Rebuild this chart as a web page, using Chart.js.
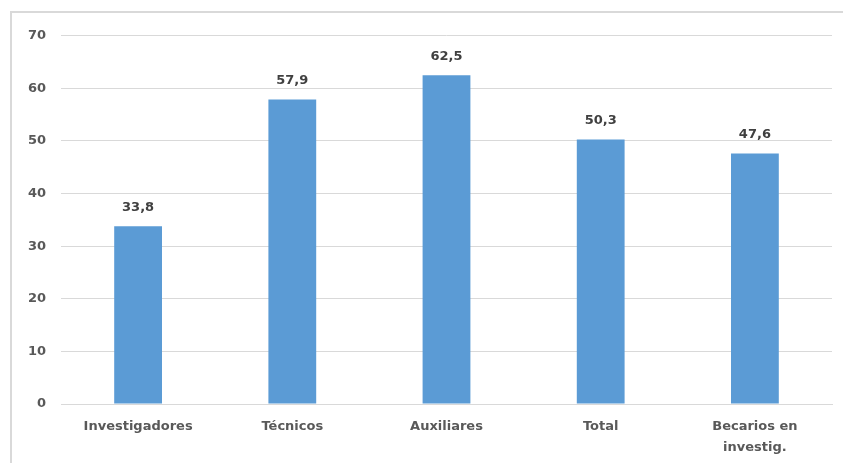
<!DOCTYPE html>
<html>
<head>
<meta charset="utf-8">
<script src="https://cdn.jsdelivr.net/npm/chart.js@4"></script>
<style>
  html, body { margin: 0; background: #fff; overflow: hidden; }
  #frame {
    position: absolute; left: 10px; top: 11px;
    width: 831px; height: 450px;
    border-left: 2px solid #d9d9d9; border-top: 2px solid #d9d9d9;
  }
  #frame canvas { display: block; }
</style>
</head>
<body>
<div id="frame"><canvas id="myChart" width="829" height="448"></canvas></div>
<script>
const categories = ["Investigadores", "Técnicos", "Auxiliares", "Total", ["Becarios en", "investig."]];
const values = [33.8, 57.9, 62.5, 50.3, 47.6];
const yTicks = [0, 10, 20, 30, 40, 50, 60, 70];

const fmt = v => v.toFixed(1).replace(".", ",");

// labels above each bar
const valueLabels = {
  id: "valueLabels",
  afterDatasetsDraw(chart) {
    const ctx = chart.ctx;
    const meta = chart.getDatasetMeta(0);
    ctx.save();
    ctx.font = "bold 13px 'DejaVu Sans'";
    ctx.fillStyle = "#404040";
    ctx.textAlign = "center";
    ctx.textBaseline = "middle";
    meta.data.forEach((bar, i) => {
      ctx.fillText(fmt(values[i]), bar.x, bar.y - 19);
    });
    ctx.restore();
  }
};

const chart = new Chart("myChart", {
  type: "bar",
  data: {
    labels: categories,
    datasets: [{
      data: values,
      backgroundColor: "#5b9bd5",
      borderWidth: 0,
      barPercentage: 0.31,
      categoryPercentage: 1
    }]
  },
  options: {
    responsive: false,
    animation: false,
    layout: {padding: {top: 22, right: 9, left: 0, bottom: 0}},
    plugins: {legend: {display: false}, tooltip: {enabled: false}},
    scales: {
      x: {
        grid: {display: false},
        border: {color: "#d9d9d9"},
        ticks: {
          color: "#595959",
          font: {family: "DejaVu Sans", size: 13, weight: "bold", lineHeight: 1.6},
          padding: 4,
          maxRotation: 0
        },
        afterFit: s => { s.height = 57; }
      },
      y: {
        min: 0,
        max: 70,
        afterBuildTicks: s => { s.ticks = yTicks.map(v => ({value: v})); },
        grid: {color: "#d9d9d9", drawTicks: false},
        border: {display: false},
        ticks: {
          color: "#595959",
          font: {family: "DejaVu Sans", size: 13, weight: "bold"},
          padding: 15
        },
        afterFit: s => { s.width = 49; }
      }
    }
  },
  plugins: [valueLabels]
});
</script>
</body>
</html>
